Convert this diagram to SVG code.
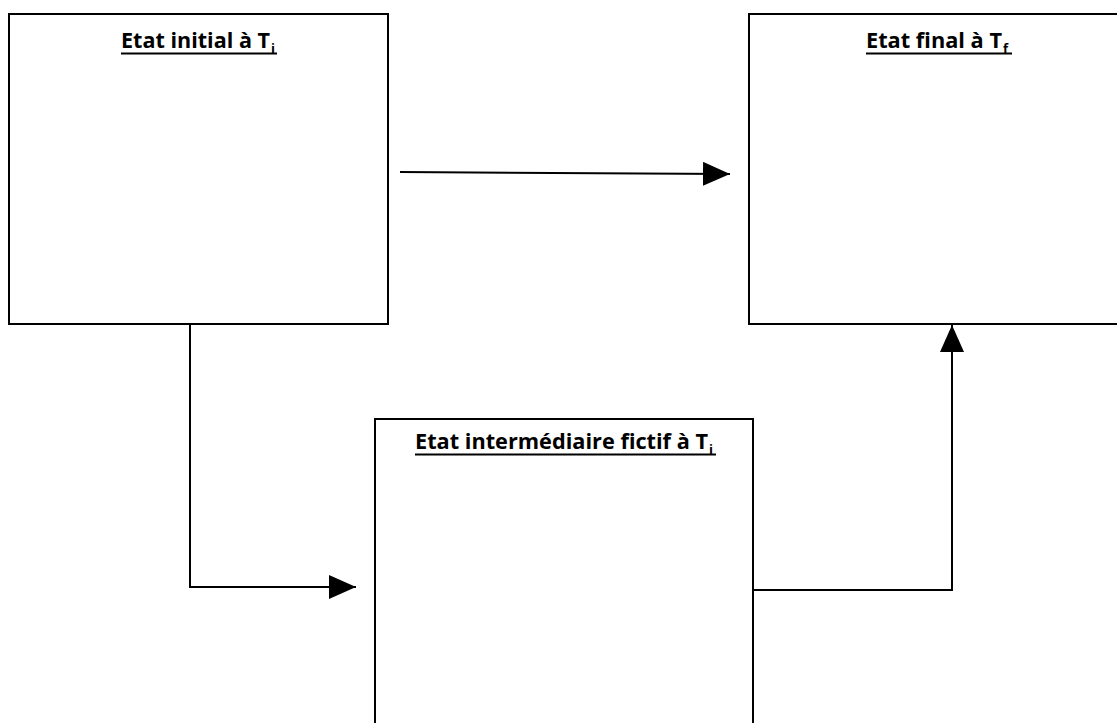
<svg xmlns="http://www.w3.org/2000/svg" width="1117" height="723" viewBox="0 0 1117 723">
<style>
.box{fill:#fff;stroke:#000;stroke-width:2}
.t{font-family:"Open Sans","Liberation Sans",sans-serif;font-weight:bold;font-size:21px;fill:#000}
.s{font-size:13px}
.u{stroke:#000;stroke-width:2}
.c{fill:none;stroke:#000;stroke-width:2}
</style>
<defs>
<marker id="ah" markerWidth="27" markerHeight="24" refX="27" refY="12" orient="auto" markerUnits="userSpaceOnUse">
<path d="M0,0 L27,12 L0,24 Z" fill="#000"/>
</marker>
</defs>
<g id="node-initial">
<rect class="box" x="9" y="14" width="379" height="310"/>
<text class="t" x="121" y="48" textLength="149" lengthAdjust="spacingAndGlyphs">Etat initial à T</text>
<text class="t s" x="271" y="53">i</text>
<line class="u" x1="121" y1="53.5" x2="277" y2="53.5"/>
</g>
<g id="node-final">
<rect class="box" x="749" y="14" width="380" height="310"/>
<text class="t" x="866" y="48" textLength="136" lengthAdjust="spacingAndGlyphs">Etat final à T</text>
<text class="t s" x="1003" y="53">f</text>
<line class="u" x1="866" y1="53.5" x2="1012" y2="53.5"/>
</g>
<g id="node-intermediaire">
<path class="box" d="M375,730 V419 H753 V730"/>
<text class="t" x="415" y="449" textLength="293" lengthAdjust="spacingAndGlyphs">Etat intermédiaire fictif à T</text>
<text class="t s" x="709" y="454">i</text>
<line class="u" x1="415" y1="454.5" x2="716" y2="454.5"/>
</g>
<g id="connectors">
<line class="c" x1="400" y1="172" x2="730" y2="174" marker-end="url(#ah)"/>
<path class="c" d="M77,324 H190 V587 H356" marker-end="url(#ah)"/>
<path class="c" d="M753,590 H952 V325" marker-end="url(#ah)"/>
</g>
</svg>
